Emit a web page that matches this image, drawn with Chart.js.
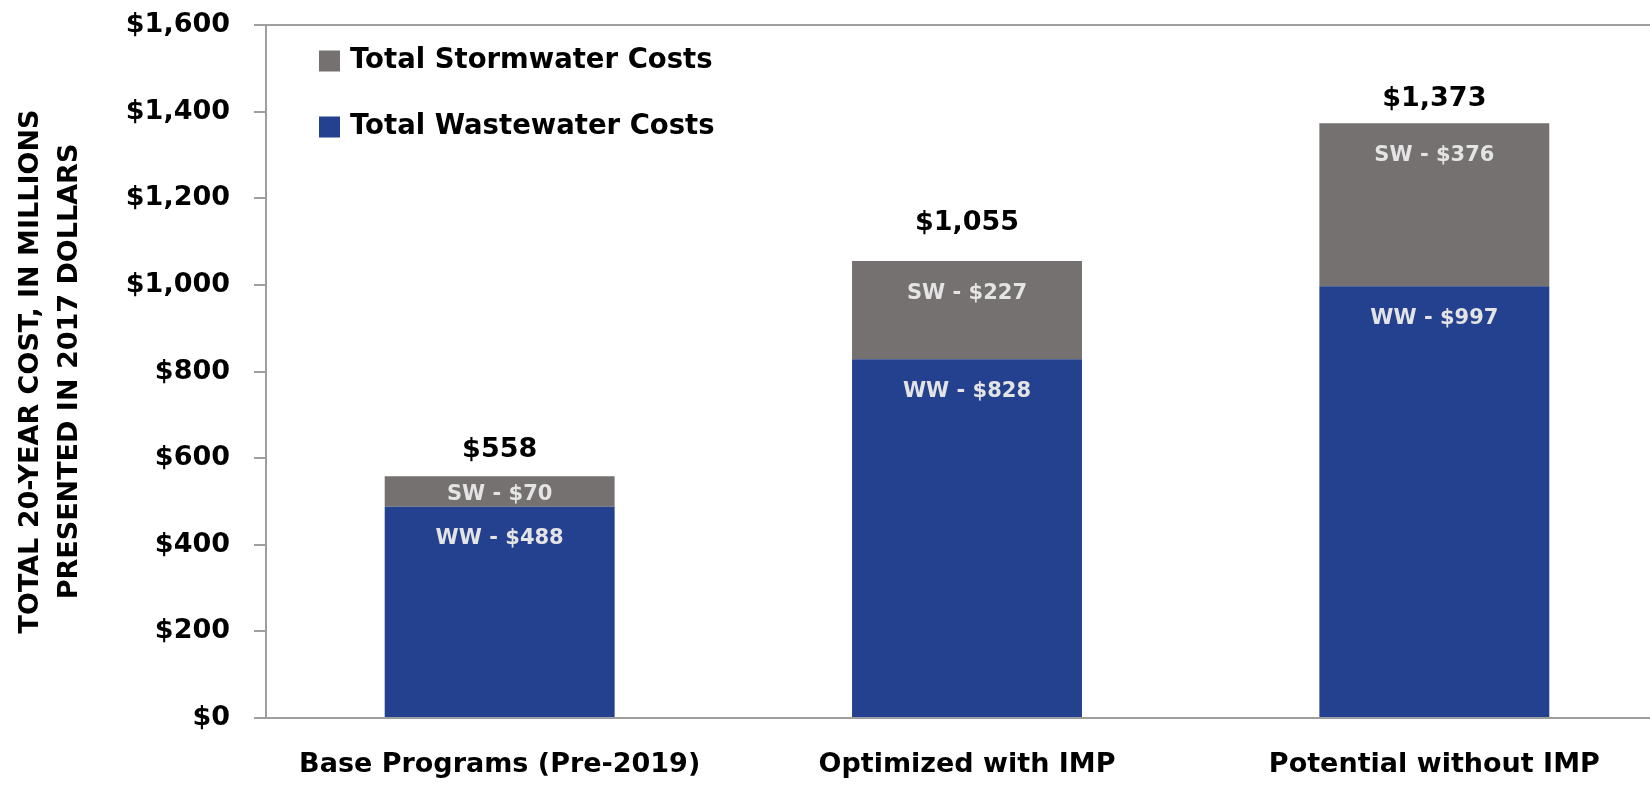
<!DOCTYPE html>
<html>
<head>
<meta charset="utf-8">
<script src="https://cdn.jsdelivr.net/npm/chart.js@4/dist/chart.umd.min.js"></script>
<style>
	body { margin: 0; background: #fff; overflow: hidden; }
	.container_grafico { position: absolute; left: 0; top: 0; width: 1650px; height: 785px; overflow: hidden; }
</style>
</head>
<body>
<div class="container_grafico">
	<canvas id="grafico_custos" width="1668" height="785"></canvas>
</div>
<script>
// dados (milhoes de dolares de 2017)
var categorias = ["Base Programs (Pre-2019)", "Optimized with IMP", "Potential without IMP"];
var custosWastewater = [488, 828, 997];
var custosStormwater = [70, 227, 376];
var nomesSeries = ["Total Wastewater Costs", "Total Stormwater Costs"];
var siglasSeries = ["WW", "SW"];
var ticksEixoY = [0, 200, 400, 600, 800, 1000, 1200, 1400, 1600];

var corAzul = "#24418F";
var corCinza = "#767171";
var corLinha = "#9E9E9E";
var fonte = "'DejaVu Sans'";

// distancia do total acima da barra (o do meio foi deslocado a mao no original)
var folgaTotais = [26, 38, 24];

function formatarDolar(valor) {
	return "$" + Number(valor).toLocaleString("en-US");
}

var rotulosBarras = {
	id: "rotulosBarras",
	afterDatasetsDraw(chart) {
		var ctx = chart.ctx;
		ctx.save();
		ctx.textAlign = "center";
		ctx.textBaseline = "middle";

		// rotulos dentro de cada segmento
		ctx.font = `bold 21px ${fonte}`;
		ctx.fillStyle = "#E4E4E4";
		chart.data.datasets.forEach((ds, i) => {
			chart.getDatasetMeta(i).data.forEach((barra, j) => {
				var altura = barra.base - barra.y;
				var y = barra.y + Math.min(32, altura / 2 + 3);
				ctx.fillText(`${siglasSeries[i]} - ${formatarDolar(ds.data[j])}`, barra.x, y);
			});
		});

		// totais acima das barras
		ctx.font = `bold 27px ${fonte}`;
		ctx.fillStyle = "#000";
		var escalaY = chart.scales.y;
		chart.getDatasetMeta(0).data.forEach((barra, j) => {
			var total = custosWastewater[j] + custosStormwater[j];
			var y = escalaY.getPixelForValue(total) - folgaTotais[j];
			ctx.fillText(formatarDolar(total), barra.x, y);
		});
		ctx.restore();
	},
};

var legendaInterna = {
	id: "legendaInterna",
	afterDraw(chart) {
		var ctx = chart.ctx;
		var area = chart.chartArea;
		ctx.save();
		ctx.font = `bold 27.5px ${fonte}`;
		ctx.textBaseline = "middle";
		ctx.textAlign = "left";
		// stormwater em cima, wastewater embaixo
		var ordem = [1, 0];
		ordem.forEach((i, linha) => {
			var ds = chart.data.datasets[i];
			var yCentro = area.top + 36 + linha * 66;
			ctx.fillStyle = ds.backgroundColor;
			ctx.fillRect(area.left + 53, yCentro - 10.5, 21, 21);
			ctx.fillStyle = "#000";
			ctx.fillText(ds.label, area.left + 84, yCentro);
		});
		ctx.restore();
	},
};

var config_custos = {
	type: "bar",
	data: {
		labels: categorias,
		datasets: [
			{
				label: nomesSeries[0],
				data: custosWastewater,
				backgroundColor: corAzul,
				borderWidth: 0,
				categoryPercentage: 1,
				barPercentage: 0.492,
			},
			{
				label: nomesSeries[1],
				data: custosStormwater,
				backgroundColor: corCinza,
				borderWidth: 0,
				categoryPercentage: 1,
				barPercentage: 0.492,
			},
		],
	},
	options: {
		responsive: false,
		animation: false,
		layout: {
			autoPadding: false,
			padding: { top: 25, left: 0, right: 0, bottom: 0 },
		},
		scales: {
			x: {
				stacked: true,
				grid: {
					display: true,
					drawOnChartArea: false,
					drawTicks: false,
				},
				border: { color: corLinha, width: 2 },
				ticks: {
					color: "#000",
					padding: 31,
					font: { family: fonte, size: 27, weight: "bold" },
				},
				afterFit(escala) {
					escala.height = 67;
					escala.paddingLeft = 0;
					escala.paddingRight = 0;
				},
			},
			y: {
				stacked: true,
				min: 0,
				max: 1600,
				afterBuildTicks(escala) {
					escala.ticks = ticksEixoY.map((v) => ({ value: v }));
				},
				grid: {
					color: (c) => (c.tick && c.tick.value === 1600 ? corLinha : "transparent"),
					lineWidth: 2,
					tickColor: corLinha,
					tickLength: 12,
				},
				border: { color: corLinha, width: 2 },
				ticks: {
					color: "#000",
					padding: 24,
					font: { family: fonte, size: 27, weight: "bold" },
					callback: (v) => formatarDolar(v),
				},
				title: {
					display: true,
					text: ["TOTAL 20-YEAR COST, IN MILLIONS", "PRESENTED IN 2017 DOLLARS"],
					color: "#000",
					font: { family: fonte, size: 27, weight: "bold", lineHeight: 1.45 },
					padding: { top: 11, bottom: 0 },
				},
				afterFit(escala) {
					escala.width = 266;
					escala.paddingTop = 0;
					escala.paddingBottom = 0;
				},
			},
		},
		plugins: {
			legend: { display: false },
			tooltip: { enabled: false },
		},
	},
	plugins: [rotulosBarras, legendaInterna],
};

var grafico_custos = new Chart(document.getElementById("grafico_custos"), config_custos);
</script>
</body>
</html>
